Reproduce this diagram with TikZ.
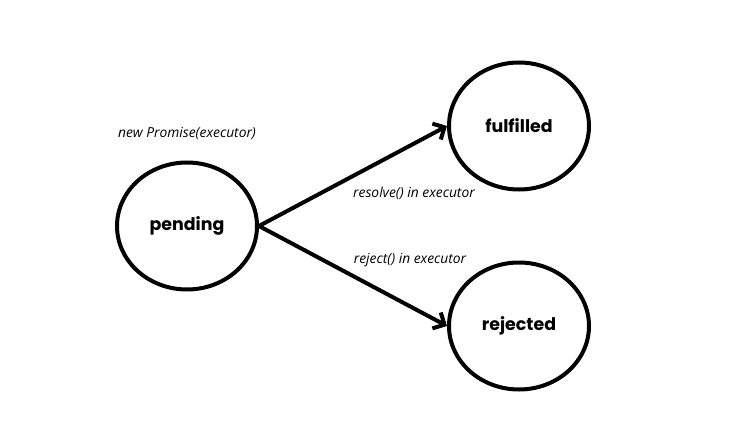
\documentclass[tikz,border=0pt]{standalone}
\usepackage{fontspec}
\setmainfont{Open Sans}
\newfontfamily\statefont{Poppins}
\usetikzlibrary{shapes.geometric,arrows.meta}
\begin{document}
\begin{tikzpicture}[x=1pt,y=-1pt,
  state/.style={draw, ellipse, line width=4pt, inner sep=0pt,
    minimum width=140pt, minimum height=127pt,
    font=\statefont\bfseries\fontsize{17.4}{20}\selectfont},
  trans/.style={line width=4pt, -{Straight Barb[length=9pt,width=18pt]}},
  note/.style={font=\itshape\fontsize{13.8}{16}\selectfont}]
  \useasboundingbox (0,0) rectangle (744,422);
  \fill[white] (0,0) rectangle (744,422);

  % states
  \node[state] (pending) at (187,226) {pending};
  \node[state] (fulfilled) at (519,126) {fulfilled};
  \node[state] (rejected) at (519,326) {rejected};

  % transitions
  \draw[trans] (pending.east) -- (fulfilled.west);
  \draw[trans] (pending.east) -- (rejected.west);

  % annotations
  \node[note] (create) at (187,134) {new Promise(executor)};
  \node[note] (resolveLbl) at (414,193) {resolve() in executor};
  \node[note] (rejectLbl) at (410,260) {reject() in executor};
\end{tikzpicture}
\end{document}
